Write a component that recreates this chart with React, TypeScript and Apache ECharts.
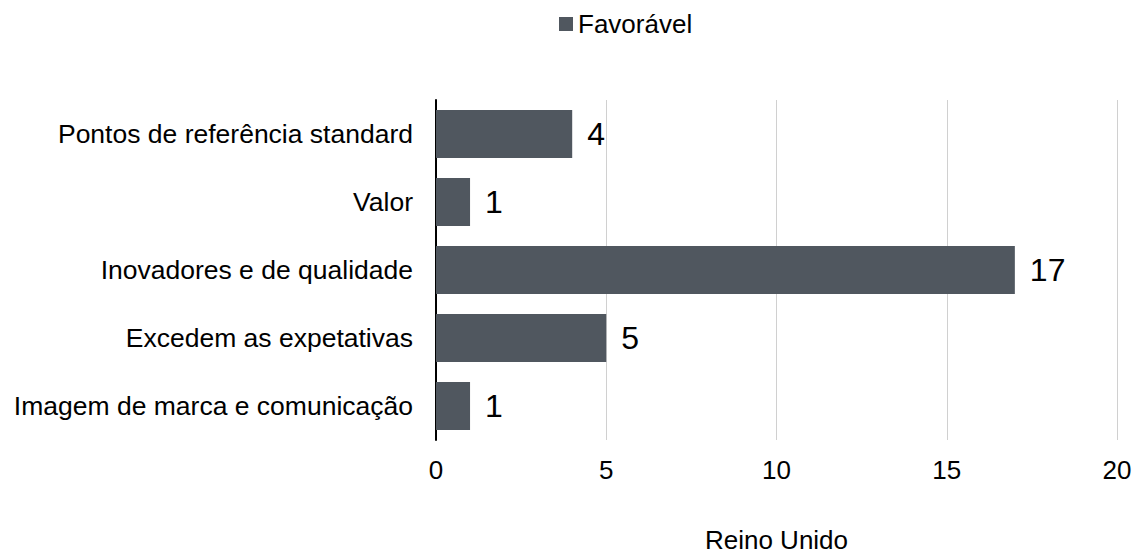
import React, { useEffect, useRef } from "react";
import * as echarts from "echarts";

const categories = [
  "Imagem de marca e comunicação",
  "Excedem as expetativas",
  "Inovadores e de qualidade",
  "Valor",
  "Pontos de referência standard",
];
const favoravel = [1, 5, 17, 1, 4];
const seriesName = "Favorável";
const axisName = "Reino Unido";

export default function App() {
  const ref = useRef<HTMLDivElement>(null);
  useEffect(() => {
    if (!ref.current) return;
    const chart = echarts.init(ref.current, undefined, { renderer: "svg" });
    const font = "'Liberation Sans', Arial, sans-serif";
    chart.setOption({
      animation: false,
      textStyle: { fontFamily: font },
      legend: {
        data: [seriesName],
        top: 11,
        left: 559,
        itemWidth: 14,
        itemHeight: 14,
        itemGap: 5,
        padding: 0,
        icon: "rect",
        textStyle: { fontSize: 26, color: "#000", fontFamily: font },
      },
      grid: {
        left: 436,
        right: 17,
        top: 100,
        bottom: 117,
        containLabel: false,
        outerBoundsMode: "none",
      },
      xAxis: {
        type: "value",
        min: 0,
        max: 20,
        interval: 5,
        name: axisName,
        nameLocation: "middle",
        nameGap: 87,
        nameTextStyle: { fontSize: 26, color: "#000", fontFamily: font },
        axisLine: { show: false },
        axisTick: { show: false },
        axisLabel: { fontSize: 26, color: "#000", margin: 17, fontFamily: font },
        splitLine: { show: true, lineStyle: { color: "#d0d0d0", width: 1 } },
      },
      yAxis: {
        type: "category",
        data: categories,
        axisLine: { show: true, lineStyle: { color: "#000", width: 2 } },
        axisTick: { show: false },
        axisLabel: { fontSize: 26.5, color: "#000", margin: 23, fontFamily: font },
        splitLine: { show: false },
      },
      series: [
        {
          name: seriesName,
          type: "bar",
          data: favoravel,
          barWidth: 48,
          itemStyle: { color: "#50575f" },
          label: {
            show: true,
            position: "right",
            distance: 15,
            fontSize: 32,
            color: "#000",
            fontFamily: font,
          },
        },
      ],
    });
    return () => chart.dispose();
  }, []);
  return (
    <div
      ref={ref}
      style={{ position: "fixed", left: 0, top: 0, width: 1134, height: 557, background: "#fff" }}
    />
  );
}
